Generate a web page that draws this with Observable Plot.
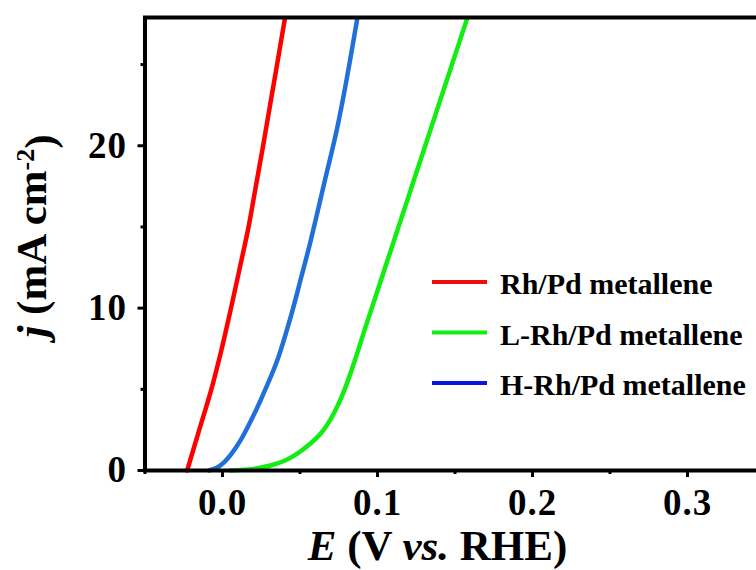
<!DOCTYPE html>
<html>
<head>
<meta charset="utf-8">
<script src="https://cdn.jsdelivr.net/npm/d3@7"></script>
<script src="https://cdn.jsdelivr.net/npm/@observablehq/plot@0.6"></script>
<style>
  html, body { margin: 0; padding: 0; background: #fff; overflow: hidden; }
  #chart { width: 756px; height: 570px; overflow: hidden; position: relative; }
  #chart svg { max-width: none !important; display: block; }
  #chart svg text { font-family: "Liberation Serif", Tinos, "Times New Roman", Times, "DejaVu Serif", serif !important; }
  #chart svg g[aria-label="x-axis tick label"] text,
  #chart svg g[aria-label="y-axis tick label"] text { letter-spacing: 1px; }
</style>
</head>
<body>
<div id="chart"></div>
<script>
// Polarization curves (current density vs. potential)
const seriesNames = ["Rh/Pd metallene", "L-Rh/Pd metallene", "H-Rh/Pd metallene"];
const lineColors = ["#ff0000", "#12ee12", "#2170d9"];
const legendColors = ["#ee0c0c", "#12ee12", "#0b16dc"];

const rhE = [-0.0228, -0.0150, -0.0072, -0.0005, 0.0055, 0.0112, 0.0168, 0.0215, 0.0262, 0.0307, 0.0352, 0.0402];
const rhJ = [0, 2.5, 5, 7.5, 10, 12.5, 15, 17.5, 20, 22.5, 25, 27.8];

const lE = [0.0050, 0.0200, 0.0310, 0.0400, 0.0480, 0.0560, 0.0632, 0.0700, 0.0760, 0.0810, 0.0860, 0.0920, 0.1000, 0.1100, 0.1200, 0.1300, 0.1400, 0.1500, 0.1577];
const lJ = [0, 0.10, 0.31, 0.60, 1.03, 1.60, 2.26, 3.20, 4.35, 5.55, 6.95, 8.75, 11.07, 13.97, 16.87, 19.77, 22.67, 25.57, 27.8];

const hE = [-0.0088, -0.0040, 0.0010, 0.0060, 0.0116, 0.0180, 0.0245, 0.0353, 0.0439, 0.0508, 0.0565, 0.0654, 0.0740, 0.0805, 0.0869];
const hJ = [0, 0.15, 0.50, 1.05, 1.85, 3.00, 4.31, 6.77, 9.43, 11.90, 14.00, 17.60, 21.10, 24.30, 27.8];

const xMajor = [0.0, 0.1, 0.2, 0.3];
const xMinor = [-0.05, 0.05, 0.15, 0.25];
const yMajor = [0, 10, 20];
const yMinor = [5, 15, 25];

const toRows = (E, J) => E.map((e, i) => ({E: e, j: J[i]}));
const curves = [toRows(rhE, rhJ), toRows(lE, lJ), toRows(hE, hJ)];

const font = "\"Liberation Serif\", Tinos, \"Times New Roman\", Times, \"DejaVu Serif\", serif";

const plot = Plot.plot({
  width: 772,
  height: 570,
  marginLeft: 144.5,
  marginRight: 7.5,
  marginTop: 17,
  marginBottom: 100,
  x: {domain: [-0.05, 0.35]},
  y: {domain: [0, 27.9]},
  style: {fontFamily: font, fontWeight: "bold", color: "#000", background: "#fff", overflow: "visible"},
  marks: [
    ...curves.map((rows, k) => Plot.line(rows, {
      x: "E", y: "j", stroke: lineColors[k], strokeWidth: 4.5, curve: "catmull-rom"
    })),
    Plot.axisX({ticks: xMajor, tickSize: 7, tickPadding: 11, strokeWidth: 3,
      tickFormat: d3.format(".1f"), fontSize: 37, fontWeight: "bold", label: null}),
    Plot.axisX({ticks: xMinor, tickSize: 4, strokeWidth: 3, text: null, label: null}),
    Plot.axisY({ticks: yMajor, tickSize: 7, tickPadding: 11, strokeWidth: 3,
      tickFormat: d3.format("d"), fontSize: 37, fontWeight: "bold", label: null}),
    Plot.axisY({ticks: yMinor, tickSize: 4, strokeWidth: 3, text: null, label: null}),
    Plot.frame({stroke: "#000", strokeWidth: 4})
  ]
});

document.getElementById("chart").appendChild(plot);

const svg = d3.select(plot);

// x-axis title: E (V vs. RHE)
const xt = svg.append("text")
  .attr("x", 437.5).attr("y", 560)
  .attr("text-anchor", "middle")
  .style("font-weight", "bold").style("font-size", "43px")
  .attr("fill", "#000");
xt.append("tspan").style("font-style", "italic").text("E");
xt.append("tspan").text(" (V ");
xt.append("tspan").style("font-style", "italic").text("vs.");
xt.append("tspan").text(" RHE)");

// y-axis title: j (mA cm-2)
const yt = svg.append("text")
  .attr("transform", "translate(46,236) rotate(-90)")
  .attr("text-anchor", "middle")
  .style("font-weight", "bold").style("font-size", "43px")
  .attr("fill", "#000");
yt.append("tspan").style("font-style", "italic").text("j");
yt.append("tspan").text(" (mA cm");
yt.append("tspan").attr("dy", "-0.45em").style("font-size", "26px").text("-2");
yt.append("tspan").attr("dy", "0.45em").text(")");

// legend
const legend = svg.append("g");
seriesNames.forEach((name, k) => {
  const cy = 282 + k * 50.5;
  legend.append("line")
    .attr("x1", 432).attr("x2", 487).attr("y1", cy).attr("y2", cy)
    .attr("stroke", legendColors[k]).attr("stroke-width", 4);
  legend.append("text")
    .attr("x", 500).attr("y", cy + 12)
    .attr("text-anchor", "start")
    .style("font-weight", "bold").style("font-size", "30px")
    .attr("fill", "#000")
    .text(name);
});
</script>
</body>
</html>
